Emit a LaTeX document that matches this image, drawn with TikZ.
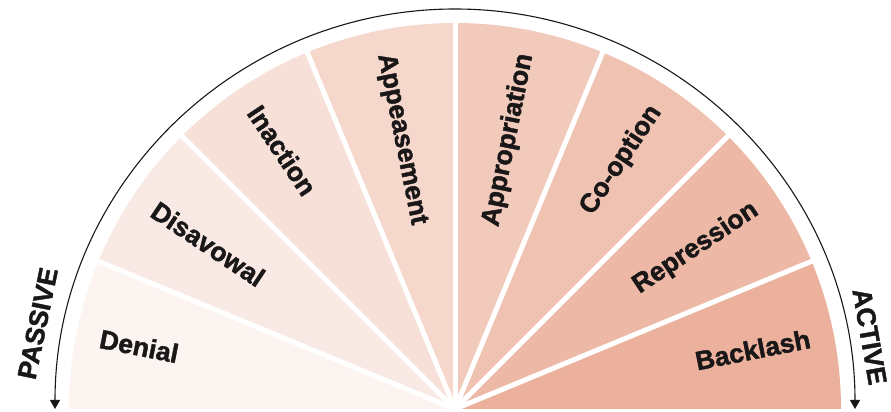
\documentclass[tikz,border=0pt]{standalone}
\usepackage{fontspec}
\setmainfont{Liberation Sans}
\newfontfamily\heavyfont[BoldFeatures={FakeBold=1.6}]{Liberation Sans}
\usetikzlibrary{arrows.meta}
% fan shades, from the passive end to the active end
\definecolor{s1}{HTML}{FCF4F0}
\definecolor{s2}{HTML}{F9E9E4}
\definecolor{s3}{HTML}{F7E0D7}
\definecolor{s4}{HTML}{F5D7CC}
\definecolor{s5}{HTML}{F1CABC}
\definecolor{s6}{HTML}{EFC2B2}
\definecolor{s7}{HTML}{EDB9A6}
\definecolor{s8}{HTML}{EBB19C}
\definecolor{ink}{HTML}{1A1718}
\begin{document}
\begin{tikzpicture}[x=1pt,y=1pt,
  lbl/.style={font=\heavyfont\fontsize{26.5}{26.5}\selectfont\bfseries, text=ink, inner sep=0pt},
  divider/.style={white, line width=5pt},
  scaleline/.style={ink, line width=1.1pt,
    {Triangle[width=10pt,length=9pt]}-{Triangle[width=10pt,length=9pt]}}]
\useasboundingbox (0,0) rectangle (891,412);
\coordinate (c) at (455,3);

% eight equal sectors of the fan
\foreach \col [count=\i from 0] in {s1,s2,s3,s4,s5,s6,s7,s8} {
  \pgfmathsetmacro\aa{180-22.5*\i}
  \pgfmathsetmacro\ab{180-22.5*(\i+1)}
  \fill[\col, shift={(455,3)}] (0,0) -- (\aa:386)
    arc[start angle=\aa, end angle=\ab, radius=386] -- cycle;
}
% white gaps between sectors
\foreach \a [count=\k] in {22.5,45,67.5,90,112.5,135,157.5}
  \draw[divider] (c) -- ([shift={(\a:392)}]c) coordinate (g\k);

% outer scale arc with arrow heads at both ends
\coordinate (pa) at ([shift={(180:400)}]c);
\draw[scaleline] (pa) arc[start angle=180, end angle=0, radius=400] coordinate (pb);

% sector labels: passive side reads inward, active side reads outward
\foreach \t/\m/\n in {Denial/168.75/denial, Disavowal/146.25/disavowal,
    Inaction/123.75/inaction, Appeasement/101.25/appeasement}
  \node[lbl, anchor=west, rotate=\m+180] (\n) at ([shift={(\m:362)}]c) {\t};
\foreach \t/\m/\n in {Appropriation/78.75/appropriation, Co-option/56.25/cooption,
    Repression/33.75/repression, Backlash/11.25/backlash}
  \node[lbl, anchor=east, rotate=\m] (\n) at ([shift={(\m:362)}]c) {\t};

% ends of the scale
\node[lbl, rotate=78.4] (passive) at ([shift={(168.4:426)}]c) {PASSIVE};
\node[lbl, rotate=-80.1] (active) at ([shift={(9.9:421)}]c) {ACTIVE};
\end{tikzpicture}
\end{document}
